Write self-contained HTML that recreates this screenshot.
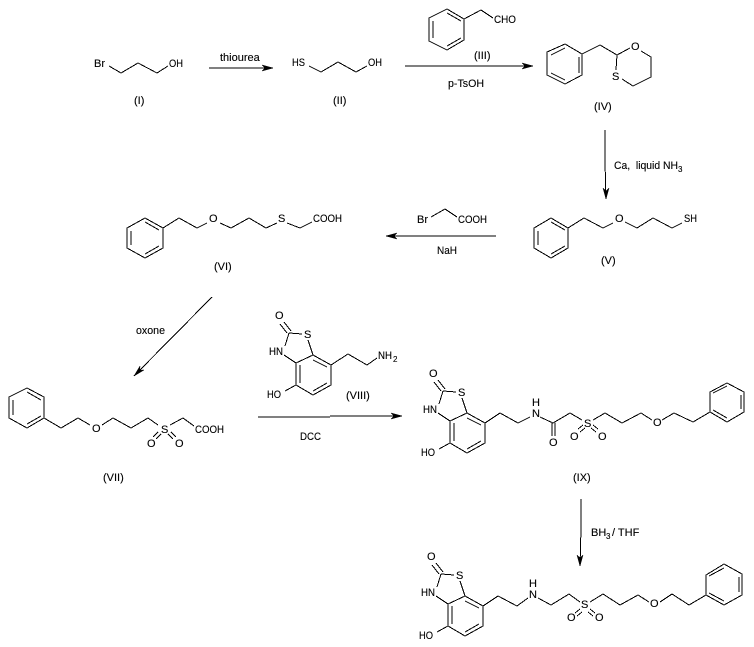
<!DOCTYPE html>
<html>
<head>
<meta charset="utf-8">
<style>
html,body{margin:0;padding:0;background:#fff;width:754px;height:647px;overflow:hidden}
svg{display:block}
text{font-family:"Liberation Sans",Arial,sans-serif;font-size:11px;fill:#000;stroke:#000;stroke-width:.12}
.s{font-size:8px}
polyline,line,polygon.r{fill:none;stroke:#000;stroke-width:1;shape-rendering:crispEdges}
polygon.h{fill:#000;stroke:#000;stroke-width:.5}
</style>
</head>
<body>
<svg width="754" height="647" viewBox="0 0 754 647" xmlns="http://www.w3.org/2000/svg">
<rect width="754" height="647" fill="#fff"/>

<!-- I -->
<text x="94" y="67">Br</text>
<polyline points="109,66 121,73 138,63 157,73 168,66"/>
<text x="169" y="67" textLength="14" lengthAdjust="spacingAndGlyphs">OH</text>
<text x="134" y="104">(I)</text>

<!-- arrow I-II -->
<text x="220" y="61">thiourea</text>
<line x1="209" y1="68" x2="273" y2="68"/>
<polygon class="h" points="273,68 262,65 265,68 262,71"/>

<!-- II -->
<text x="292" y="66" textLength="13" lengthAdjust="spacingAndGlyphs">HS</text>
<polyline points="309,66 321,72 338,62 356,72 367,66"/>
<text x="368" y="66" textLength="14" lengthAdjust="spacingAndGlyphs">OH</text>
<text x="333" y="104">(II)</text>

<!-- III -->
<polygon class="r" points="429,18 447,9 464,19 464,40 447,50 429,41"/>
<line x1="433" y1="21" x2="433" y2="38"/>
<line x1="447" y1="13" x2="461" y2="21"/>
<line x1="447" y1="46" x2="461" y2="38"/>
<polyline points="464,19 481,10 493,18"/>
<text x="494" y="23" textLength="22" lengthAdjust="spacingAndGlyphs">CHO</text>
<text x="474" y="59">(III)</text>

<!-- arrow II-IV -->
<line x1="405" y1="66" x2="533" y2="66"/>
<polygon class="h" points="533,66 522,63 525,66 522,69"/>
<text x="448" y="87" textLength="36" lengthAdjust="spacingAndGlyphs">p-TsOH</text>

<!-- IV -->
<polygon class="r" points="547,52 565,44 582,54 582,75 565,84 547,75"/>
<line x1="551" y1="55" x2="565" y2="48"/>
<line x1="579" y1="57" x2="579" y2="73"/>
<line x1="551" y1="73" x2="565" y2="80"/>
<polyline points="582,54 600,45 617,55 630,48"/>
<text x="631" y="50">O</text>
<polyline points="641,51 651,57 651,77 633,86 622,79"/>
<text x="612" y="80">S</text>
<line x1="616" y1="70" x2="617" y2="55"/>
<text x="594" y="110">(IV)</text>

<!-- arrow IV-V -->
<polyline points="605,130 605,162 606,199"/>
<polygon class="h" points="606,199 603,188 606,191 609,188"/>
<text x="614" y="169" textLength="64" lengthAdjust="spacingAndGlyphs">Ca,&#160;&#160;liquid NH</text>
<text class="s" x="678" y="172">3</text>

<!-- V -->
<polygon class="r" points="534,228 551,218 568,228 568,248 551,258 534,248"/>
<line x1="538" y1="231" x2="538" y2="245"/>
<line x1="551" y1="222" x2="565" y2="230"/>
<line x1="551" y1="254" x2="565" y2="246"/>
<polyline points="568,228 584,218 603,228 613,223"/>
<text x="615" y="222">O</text>
<polyline points="625,222 637,228 653,218 672,228 682,223"/>
<text x="684" y="222" textLength="13" lengthAdjust="spacingAndGlyphs">SH</text>
<text x="601" y="264">(V)</text>

<!-- arrow V-VI -->
<text x="417" y="223">Br</text>
<polyline points="431,217 445,209 457,217"/>
<text x="458" y="223" textLength="29" lengthAdjust="spacingAndGlyphs">COOH</text>
<line x1="386" y1="236" x2="496" y2="236"/>
<polygon class="h" points="386,236 397,233 394,236 397,239"/>
<text x="437" y="254" textLength="20" lengthAdjust="spacingAndGlyphs">NaH</text>

<!-- VI -->
<polygon class="r" points="127,228 145,218 163,228 163,248 145,258 127,248"/>
<line x1="131" y1="231" x2="131" y2="245"/>
<line x1="145" y1="222" x2="159" y2="230"/>
<line x1="145" y1="254" x2="159" y2="246"/>
<polyline points="163,228 179,218 197,228 207,223"/>
<text x="209" y="222">O</text>
<polyline points="220,223 231,228 249,218 266,228 277,223"/>
<text x="278" y="222">S</text>
<polyline points="287,223 300,228 312,222"/>
<text x="313" y="222" textLength="29" lengthAdjust="spacingAndGlyphs">COOH</text>
<text x="214" y="270">(VI)</text>

<!-- arrow VI-VII -->
<line x1="212" y1="297" x2="134" y2="376"/>
<polygon class="h" points="134,376 144,370 139.6,370.3 140,366"/>
<text x="136" y="334" textLength="29" lengthAdjust="spacingAndGlyphs">oxone</text>

<!-- VII -->
<polygon class="r" points="9,397 27,388 44,397 44,418 27,428 9,418"/>
<line x1="13" y1="400" x2="13" y2="415"/>
<line x1="27" y1="392" x2="41" y2="400"/>
<line x1="27" y1="424" x2="41" y2="416"/>
<polyline points="44,418 61,428 78,418 90,425"/>
<text x="92" y="432">O</text>
<polyline points="102,425 113,418 131,428 148,418 158,425"/>
<text x="161" y="433">S</text>
<polyline points="170,425 183,418 194,426"/>
<text x="195" y="433" textLength="29" lengthAdjust="spacingAndGlyphs">COOH</text>
<line x1="158" y1="432" x2="153" y2="437"/>
<line x1="161" y1="434" x2="156" y2="439"/>
<line x1="168" y1="434" x2="173" y2="439"/>
<line x1="171" y1="432" x2="176" y2="437"/>
<text x="147" y="447">O</text>
<text x="175" y="447">O</text>
<text x="103" y="481">(VII)</text>

<!-- VIII -->
<g>
<text x="275" y="319">O</text>
<line x1="280" y1="324" x2="287" y2="333"/>
<line x1="284" y1="322" x2="291" y2="331"/>
<line x1="289" y1="333" x2="302" y2="334"/>
<text x="304" y="338">S</text>
<line x1="308" y1="340" x2="313" y2="355"/>
<polygon class="r" points="313,355 331,365 331,385 313,395 296,385 296,363"/>
<line x1="313" y1="360" x2="327" y2="367"/>
<line x1="313" y1="391" x2="327" y2="383"/>
<line x1="300" y1="365" x2="300" y2="383"/>
<line x1="296" y1="363" x2="284" y2="355"/>
<text x="269" y="355" textLength="14" lengthAdjust="spacingAndGlyphs">HN</text>
<line x1="285" y1="346" x2="289" y2="333"/>
<text x="267" y="398" textLength="14" lengthAdjust="spacingAndGlyphs">HO</text>
<line x1="296" y1="385" x2="285" y2="391"/>
</g>
<polyline points="331,365 348,354 367,365 377,358"/>
<text x="378" y="359" textLength="14" lengthAdjust="spacingAndGlyphs">NH</text>
<text class="s" x="393" y="362">2</text>
<text x="346" y="399">(VIII)</text>

<!-- arrow VII-IX -->
<line x1="258" y1="417" x2="330" y2="417"/>
<line x1="330" y1="416" x2="402" y2="416"/>
<polygon class="h" points="402,416 391,413 394,416 391,419"/>
<text x="300" y="440" textLength="21" lengthAdjust="spacingAndGlyphs">DCC</text>

<!-- IX -->
<g transform="translate(154,58)">
<text x="275" y="319">O</text>
<line x1="280" y1="324" x2="287" y2="333"/>
<line x1="284" y1="322" x2="291" y2="331"/>
<line x1="289" y1="333" x2="302" y2="334"/>
<text x="304" y="338">S</text>
<line x1="308" y1="340" x2="313" y2="355"/>
<polygon class="r" points="313,355 331,365 331,385 313,395 296,385 296,363"/>
<line x1="313" y1="360" x2="327" y2="367"/>
<line x1="313" y1="391" x2="327" y2="383"/>
<line x1="300" y1="365" x2="300" y2="383"/>
<line x1="296" y1="363" x2="284" y2="355"/>
<text x="269" y="355" textLength="14" lengthAdjust="spacingAndGlyphs">HN</text>
<line x1="285" y1="346" x2="289" y2="333"/>
<text x="267" y="398" textLength="14" lengthAdjust="spacingAndGlyphs">HO</text>
<line x1="296" y1="385" x2="285" y2="391"/>
</g>
<polyline points="485,423 500,413 518,423 530,417"/>
<text x="532" y="406">H</text>
<text x="532" y="417">N</text>
<polyline points="540,417 553,423 570,413 582,420"/>
<line x1="552" y1="423" x2="552" y2="436"/>
<line x1="555" y1="423" x2="555" y2="436"/>
<text x="549" y="446">O</text>
<text x="584" y="427">S</text>
<polyline points="593,420 605,413 622,423 641,413 652,420"/>
<text x="653" y="426">O</text>
<polyline points="662,420 674,413 693,422 710,412"/>
<polygon class="r" points="710,412 710,392 727,383 744,392 744,412 727,422"/>
<line x1="713" y1="393" x2="727" y2="386"/>
<line x1="741" y1="395" x2="741" y2="409"/>
<line x1="713" y1="410" x2="727" y2="418"/>
<line x1="583" y1="425" x2="578" y2="429"/>
<line x1="585" y1="428" x2="580" y2="432"/>
<line x1="591" y1="428" x2="596" y2="432"/>
<line x1="593" y1="425" x2="598" y2="429"/>
<text x="570" y="440">O</text>
<text x="598" y="440">O</text>
<text x="573" y="481">(IX)</text>

<!-- arrow IX-X -->
<polyline points="581,499 581,528 580,566"/>
<polygon class="h" points="580,566 577,555 580,558 583,555"/>
<text x="591" y="536">BH</text>
<text class="s" x="606" y="539">3</text>
<text x="612" y="536">/ THF</text>

<!-- X -->
<g transform="translate(152,241)">
<text x="275" y="319">O</text>
<line x1="280" y1="324" x2="287" y2="333"/>
<line x1="284" y1="322" x2="291" y2="331"/>
<line x1="289" y1="333" x2="302" y2="334"/>
<text x="304" y="338">S</text>
<line x1="308" y1="340" x2="313" y2="355"/>
<polygon class="r" points="313,355 331,365 331,385 313,395 296,385 296,363"/>
<line x1="313" y1="360" x2="327" y2="367"/>
<line x1="313" y1="391" x2="327" y2="383"/>
<line x1="300" y1="365" x2="300" y2="383"/>
<line x1="296" y1="363" x2="284" y2="355"/>
<text x="269" y="355" textLength="14" lengthAdjust="spacingAndGlyphs">HN</text>
<line x1="285" y1="346" x2="289" y2="333"/>
<text x="267" y="398" textLength="14" lengthAdjust="spacingAndGlyphs">HO</text>
<line x1="296" y1="385" x2="285" y2="391"/>
</g>
<polyline points="483,606 498,596 517,606 528,598"/>
<text x="529" y="587">H</text>
<text x="529" y="598">N</text>
<polyline points="538,598 551,605 569,594 580,602"/>
<text x="581" y="608">S</text>
<polyline points="590,602 603,594 620,605 638,595 649,602"/>
<text x="650" y="607">O</text>
<polyline points="660,602 672,594 689,605 706,595"/>
<polygon class="r" points="706,595 706,575 724,564 742,574 742,595 724,605"/>
<line x1="709" y1="576" x2="724" y2="568"/>
<line x1="739" y1="577" x2="739" y2="592"/>
<line x1="709" y1="593" x2="724" y2="601"/>
<line x1="580" y1="609" x2="575" y2="613"/>
<line x1="582" y1="612" x2="577" y2="616"/>
<line x1="588" y1="612" x2="593" y2="616"/>
<line x1="590" y1="609" x2="595" y2="613"/>
<text x="567" y="621">O</text>
<text x="595" y="621">O</text>
</svg>
</body>
</html>
